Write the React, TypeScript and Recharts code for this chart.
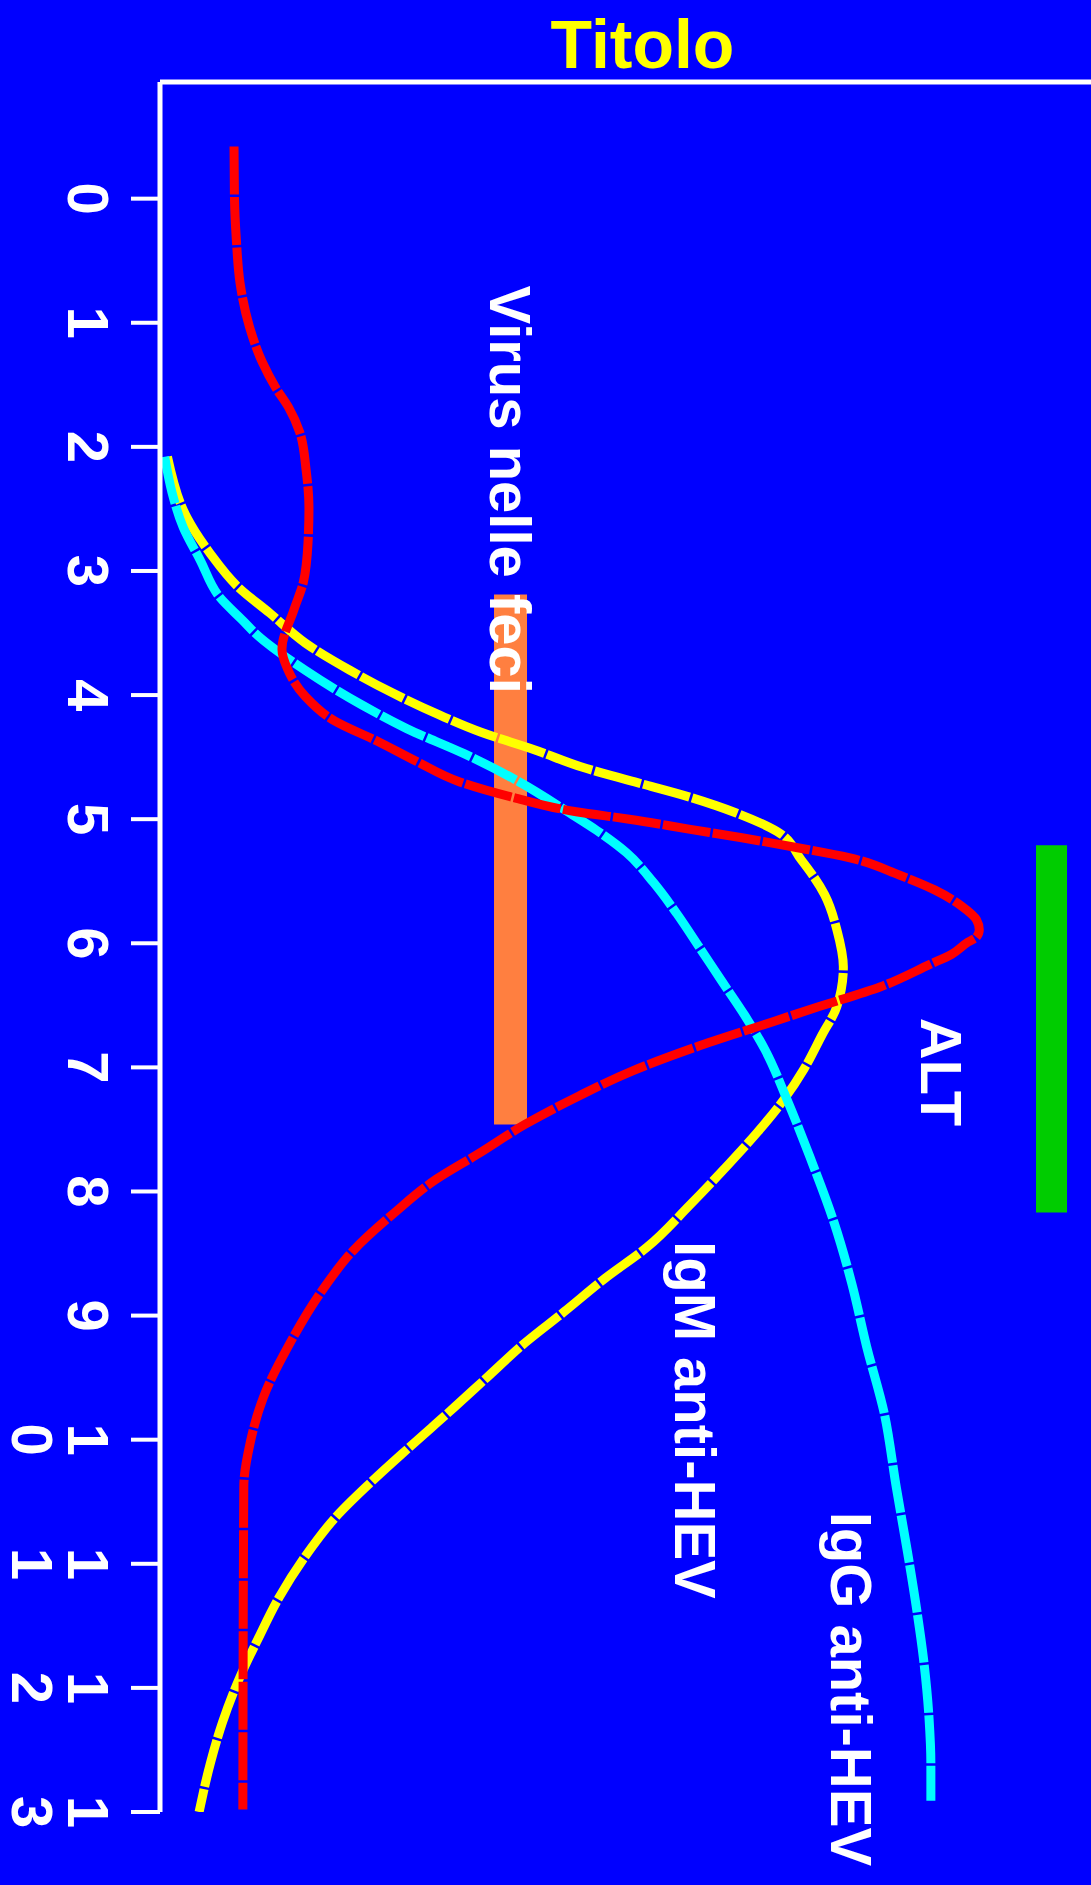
import React from 'react';
import { LineChart, Line, XAxis, YAxis, ReferenceDot } from 'recharts';

const FONT = "'Liberation Sans', Arial, Helvetica, sans-serif";
const titleText = 'Titolo';

// time axis (weeks)
const timeTicks = [0, 1, 2, 3, 4, 5, 6, 7, 8, 9, 10, 11, 12, 13];
const tickLabels = ['0', '1', '2', '3', '4', '5', '6', '7', '8', '9', '10', '11', '12', '13'];

// red curve (viremia)
const viremiaT = [-0.42, 0, 0.33, 0.68, 1.03, 1.32, 1.52, 1.68, 1.88, 2.19, 2.49, 2.77, 3.09, 3.31, 3.63, 3.79, 4.01, 4.21, 4.37, 4.54, 4.7, 4.83, 4.94, 5.0, 5.08, 5.15, 5.23, 5.31, 5.45, 5.57, 5.7, 5.81, 5.89, 5.95, 5.99, 6.09, 6.17, 6.35, 6.51, 6.65, 6.84, 7.03, 7.23, 7.46, 7.7, 7.9, 8.17, 8.48, 8.81, 9.23, 9.66, 10.02, 10.38, 12.98];
const viremiaV = [7.95, 8.0, 8.2, 8.6, 9.6, 11.0, 12.4, 13.8, 15.0, 15.7, 16.0, 15.9, 15.4, 14.4, 13.1, 13.7, 15.6, 18.8, 23.3, 27.7, 32.2, 38.2, 44.7, 50.4, 56.8, 62.5, 68.5, 74.0, 79.4, 83.2, 86.1, 87.7, 88.0, 87.7, 86.8, 85.0, 82.7, 77.4, 70.8, 65.1, 57.4, 50.7, 45.0, 39.2, 34.1, 29.7, 25.2, 20.7, 17.3, 13.9, 11.1, 9.7, 9.0, 8.9];

// yellow curve (IgM anti-HEV)
const igmT = [2.08, 2.57, 2.86, 3.13, 3.34, 3.58, 3.8, 3.98, 4.16, 4.3, 4.44, 4.58, 4.7, 4.82, 4.95, 5.1, 5.33, 5.61, 5.89, 6.19, 6.51, 6.74, 7.01, 7.26, 7.52, 7.77, 8.11, 8.45, 8.7, 8.97, 9.22, 9.5, 9.74, 10.06, 10.34, 10.63, 10.94, 11.27, 11.61, 11.91, 12.28, 12.61, 13.0];
const igmV = [0.8, 2.9, 5.4, 8.4, 11.8, 15.6, 20.4, 24.9, 30.0, 34.5, 40.2, 45.3, 51.0, 56.8, 61.9, 66.3, 68.9, 71.4, 72.7, 73.4, 72.7, 71.1, 69.2, 67.0, 64.2, 61.2, 56.9, 52.3, 47.8, 43.4, 39.2, 35.1, 31.6, 26.8, 22.7, 18.8, 15.6, 12.8, 10.5, 8.6, 6.7, 5.4, 4.2];

// cyan curve (IgG anti-HEV)
const iggT = [2.08, 2.37, 2.65, 2.91, 3.21, 3.4, 3.5, 3.8, 4.08, 4.27, 4.47, 4.7, 4.95, 5.09, 5.27, 5.51, 5.76, 6.04, 6.3, 6.58, 6.86, 7.25, 7.72, 8.25, 8.74, 9.25, 9.79, 10.39, 10.91, 11.38, 11.76, 12.24, 12.61, 12.91];
const iggV = [0.5, 1.3, 2.5, 4.3, 6.4, 8.9, 10.2, 15.6, 21.7, 26.5, 32.6, 38.6, 44.0, 46.9, 50.1, 53.0, 55.5, 58.0, 60.3, 62.8, 65.0, 67.3, 69.8, 72.4, 74.3, 75.9, 77.8, 79.1, 80.3, 81.3, 82.0, 82.6, 82.8, 82.8];

// intervals (bars)
const virusT = [3.19, 7.46];
const virusV = [37.65, 37.65];
const altT = [5.21, 8.17];
const altV = [95.76, 95.76];

// annotation texts
const annTexts = ['Virus nelle feci', 'IgM anti-HEV', 'IgG anti-HEV', 'ALT'];
const annT = [0.7, 8.4, 10.58, 6.6];
const annV = [35.45, 55.32, 72.07, 81.74];

const toPoints = (ts: number[], vs: number[]) => ts.map((t, i) => ({ t, v: vs[i] }));

const viremiaData = toPoints(viremiaT, viremiaV);
const igmData = toPoints(igmT, igmV);
const iggData = toPoints(iggT, iggV);
const virusData = toPoints(virusT, virusV);
const altData = toPoints(altT, altV);

const TimeTick = (props: any) => {
  const { x, y, payload } = props;
  const idx = timeTicks.indexOf(payload.value);
  const label = idx >= 0 ? tickLabels[idx] : String(payload.value);
  const chars = label.split('');
  return (
    <g>
      {chars.map((ch, i) => {
        const bx = x - 63 - i * 56;
        return (
          <text
            key={i}
            x={bx}
            y={y}
            transform={`rotate(90, ${bx}, ${y})`}
            textAnchor="middle"
            fill="#FFFFFF"
            fontSize={58}
            fontWeight="bold"
            fontFamily={FONT}
          >
            {ch}
          </text>
        );
      })}
    </g>
  );
};

const TitleLabel = (p: any) => {
  const vb = p && p.viewBox ? p.viewBox : { x: 160, y: 0, width: 931, height: 82 };
  const cx = vb.x + vb.width / 2 + 17;
  return (
    <text x={cx} y={vb.y + vb.height - 14} textAnchor="middle" fill="#FFFF00" fontSize={68} fontWeight="bold" fontFamily={FONT}>
      {titleText}
    </text>
  );
};

const makeAnnLabel = (text: string) => (p: any) => {
  const vb = p && p.viewBox ? p.viewBox : { x: p.x, y: p.y };
  const x = vb.x;
  const y = vb.y;
  return (
    <text
      x={x}
      y={y}
      transform={`rotate(90, ${x}, ${y})`}
      textAnchor="start"
      fill="#FFFFFF"
      fontSize={58}
      fontWeight="bold"
      fontFamily={FONT}
    >
      {text}
    </text>
  );
};

const DASH = '48 2.5';

export default function App() {
  return (
    <div style={{ position: 'absolute', left: 0, top: 0, width: 1091, height: 1885, background: '#0000FF', overflow: 'hidden' }}>
      <LineChart
        width={1091}
        height={1885}
        layout="vertical"
        margin={{ top: 0, right: 0, bottom: 73, left: 0 }}
      >
        <XAxis
          type="number"
          dataKey="v"
          orientation="top"
          domain={[0, 100]}
          height={82}
          tick={false}
          tickLine={false}
          axisLine={{ stroke: '#FFFFFF', strokeWidth: 5 }}
          label={TitleLabel}
        />
        <YAxis
          type="number"
          dataKey="t"
          domain={[-0.94, 13]}
          ticks={timeTicks}
          width={160}
          tickSize={29}
          tickMargin={0}
          interval={0}
          allowDataOverflow
          tick={<TimeTick />}
          tickLine={{ stroke: '#FFFFFF', strokeWidth: 4 }}
          axisLine={{ stroke: '#FFFFFF', strokeWidth: 5 }}
        />
        <Line data={virusData} dataKey="v" type="linear" stroke="#FF7F40" strokeWidth={33} dot={false} activeDot={false} isAnimationActive={false} />
        <Line data={altData} dataKey="v" type="linear" stroke="#00CC00" strokeWidth={31} dot={false} activeDot={false} isAnimationActive={false} />
        <Line data={igmData} dataKey="v" type="monotone" stroke="#FFFF00" strokeWidth={9} strokeDasharray={DASH} dot={false} activeDot={false} isAnimationActive={false} />
        <Line data={iggData} dataKey="v" type="monotone" stroke="#00FFFF" strokeWidth={9} strokeDasharray={DASH} dot={false} activeDot={false} isAnimationActive={false} />
        <Line data={viremiaData} dataKey="v" type="monotone" stroke="#FF0000" strokeWidth={9} strokeDasharray={DASH} dot={false} activeDot={false} isAnimationActive={false} />
        {annTexts.map((txt, i) => (
          <ReferenceDot
            key={txt}
            x={annV[i]}
            y={annT[i]}
            r={0}
            fill="none"
            stroke="none"
            label={makeAnnLabel(txt)}
          />
        ))}
      </LineChart>
    </div>
  );
}
